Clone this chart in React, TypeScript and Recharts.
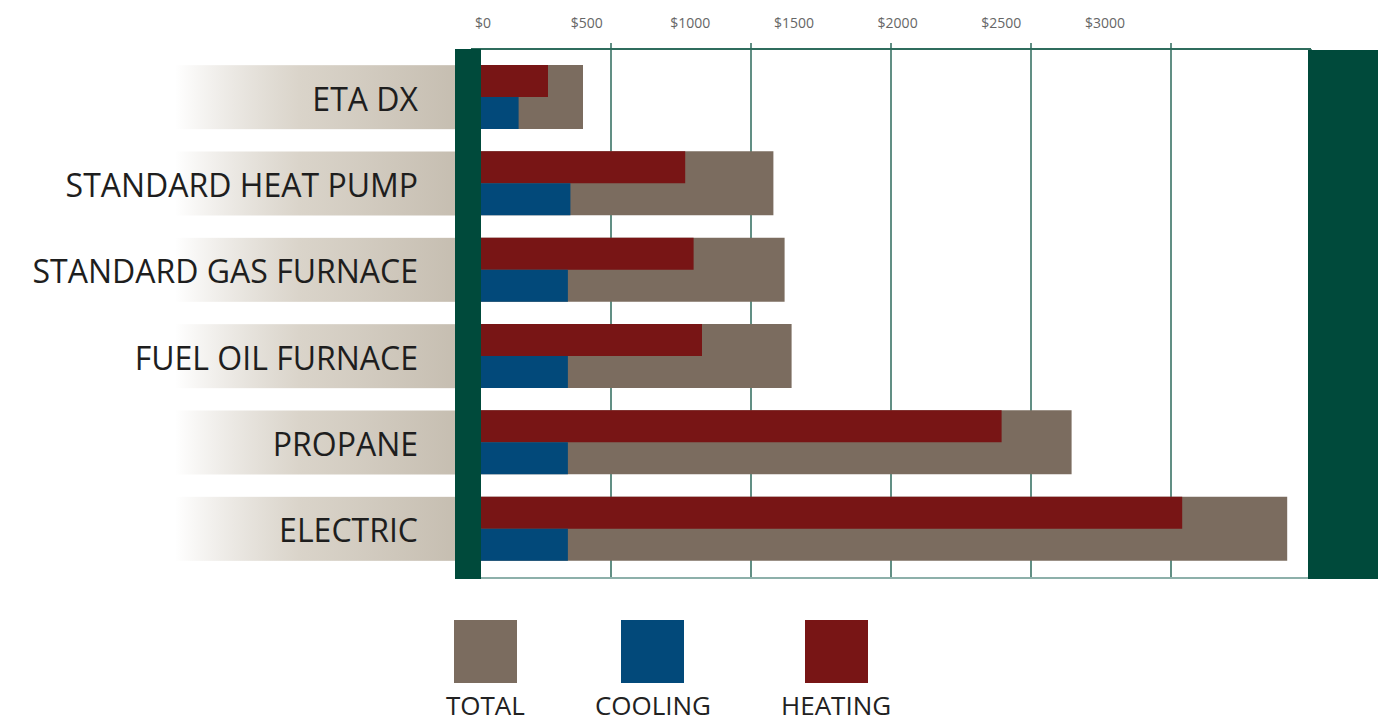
import React from "react";
import {
  Bar,
  BarChart,
  CartesianGrid,
  XAxis,
  YAxis,
} from "recharts";

const systems = [
  "ETA DX",
  "STANDARD HEAT PUMP",
  "STANDARD GAS FURNACE",
  "FUEL OIL FURNACE",
  "PROPANE",
  "ELECTRIC",
];
const totalCost = [400, 1080, 1120, 1145, 2145, 2915];
const heatingCost = [275, 765, 795, 825, 1895, 2540];
const coolingCost = [170, 355, 346, 346, 346, 346];

const gridTicks = [500, 1000, 1500, 2000, 2500];
const labelTicks = [0, 500, 1000, 1500, 2000, 2500, 3000];

const legendItems = [
  { key: "total", label: "TOTAL" },
  { key: "cooling", label: "COOLING" },
  { key: "heating", label: "HEATING" },
];

const colors: Record<string, string> = {
  total: "#7b6c5f",
  cooling: "#02497a",
  heating: "#781515",
};

const GREEN = "#004a3b";
const FONT = "'Open Sans', sans-serif";

const data = systems.map((name, i) => ({
  name,
  total: totalCost[i],
  heating: heatingCost[i],
  cooling: coolingCost[i],
}));

function SystemTick(props: any) {
  const { y, payload } = props;
  return (
    <g>
      <rect x={175} y={y - 32} width={280} height={64} fill="url(#bandFade)" />
      <text
        x={418}
        y={y + 1}
        textAnchor="end"
        dominantBaseline="central"
        fontFamily={FONT}
        fontSize={32}
        fill="#1e1e1e"
      >
        {payload.value}
      </text>
    </g>
  );
}

function NoLabel() {
  return <g />;
}

export default function App() {
  return (
    <div style={{ position: "absolute", left: 0, top: 0, width: 1378, height: 721, background: "#fff" }}>
      <BarChart
        width={1378}
        height={600}
        data={data}
        layout="vertical"
        barGap={0}
        margin={{ top: 13, right: 67, bottom: 20, left: 0 }}
      >
        <defs>
          <linearGradient id="bandFade" x1="0" y1="0" x2="1" y2="0">
            <stop offset="0%" stopColor="#c7bfb2" stopOpacity={0} />
            <stop offset="45%" stopColor="#d3ccc0" stopOpacity={0.85} />
            <stop offset="100%" stopColor="#c6beb1" stopOpacity={1} />
          </linearGradient>
        </defs>
        <CartesianGrid
          xAxisId="agrid"
          yAxisId="total"
          horizontal={false}
          stroke="#2d6a5b"
          strokeWidth={1.5}
        />
        <XAxis
          xAxisId="agrid"
          type="number"
          orientation="top"
          domain={[0, 3000]}
          ticks={gridTicks}
          height={6}
          tickSize={6}
          tick={NoLabel}
          tickLine={{ stroke: "#2d6a5b", strokeWidth: 1.5 }}
          axisLine={{ stroke: "#2f6c5d", strokeWidth: 2 }}
        />
        <XAxis
          xAxisId="labels"
          type="number"
          orientation="top"
          domain={[-58, 3994]}
          allowDataOverflow
          ticks={labelTicks}
          height={30}
          tickSize={6}
          tickMargin={9}
          tickLine={false}
          axisLine={false}
          tickFormatter={(v) => `$${v}`}
          tick={{ fontFamily: FONT, fontSize: 14, fill: "#666" }}
        />
        <XAxis
          xAxisId="bottom"
          type="number"
          orientation="bottom"
          domain={[0, 3000]}
          allowDataOverflow
          height={2}
          tick={false}
          tickLine={false}
          axisLine={{ stroke: "#8db0aa", strokeWidth: 2 }}
        />
        <YAxis
          yAxisId="total"
          type="category"
          dataKey="name"
          width={471}
          padding={{ top: 5, bottom: 6 }}
          axisLine={false}
          tickLine={false}
          tick={SystemTick}
          interval={0}
        />
        <YAxis
          yAxisId="split"
          type="category"
          dataKey="name"
          hide
          padding={{ top: 5, bottom: 6 }}
        />
        <YAxis yAxisId="ghost" type="category" dataKey="name" hide />
        <Bar
          xAxisId="agrid"
          yAxisId="total"
          dataKey="total"
          name="TOTAL"
          fill={colors.total}
          barSize={64}
          isAnimationActive={false}
        />
        <Bar
          xAxisId="agrid"
          yAxisId="split"
          dataKey="heating"
          name="HEATING"
          fill={colors.heating}
          barSize={32}
          isAnimationActive={false}
        />
        <Bar
          xAxisId="agrid"
          yAxisId="split"
          dataKey="cooling"
          name="COOLING"
          fill={colors.cooling}
          barSize={32}
          isAnimationActive={false}
        />
        {/* empty series so the label and bottom axes get a scale */}
        <Bar xAxisId="labels" yAxisId="ghost" dataKey="none" isAnimationActive={false} legendType="none" />
        <Bar xAxisId="bottom" yAxisId="ghost" dataKey="none" isAnimationActive={false} legendType="none" />
      </BarChart>

      {/* frame pieces left and right of the plot */}
      <div style={{ position: "absolute", left: 455, top: 49, width: 26, height: 530, background: GREEN }} />
      <div style={{ position: "absolute", left: 1308, top: 50, width: 70, height: 529, background: GREEN }} />

      <div
        style={{
          position: "absolute",
          left: 446,
          top: 620,
          display: "flex",
          gap: 70,
          fontFamily: FONT,
          fontSize: 26,
          color: "#222",
        }}
      >
        {legendItems.map((item) => (
          <div key={item.key} style={{ display: "flex", flexDirection: "column", alignItems: "center" }}>
            <div style={{ width: 63, height: 63, background: colors[item.key] }} />
            <div style={{ marginTop: 11, lineHeight: "22px" }}>{item.label}</div>
          </div>
        ))}
      </div>
    </div>
  );
}
